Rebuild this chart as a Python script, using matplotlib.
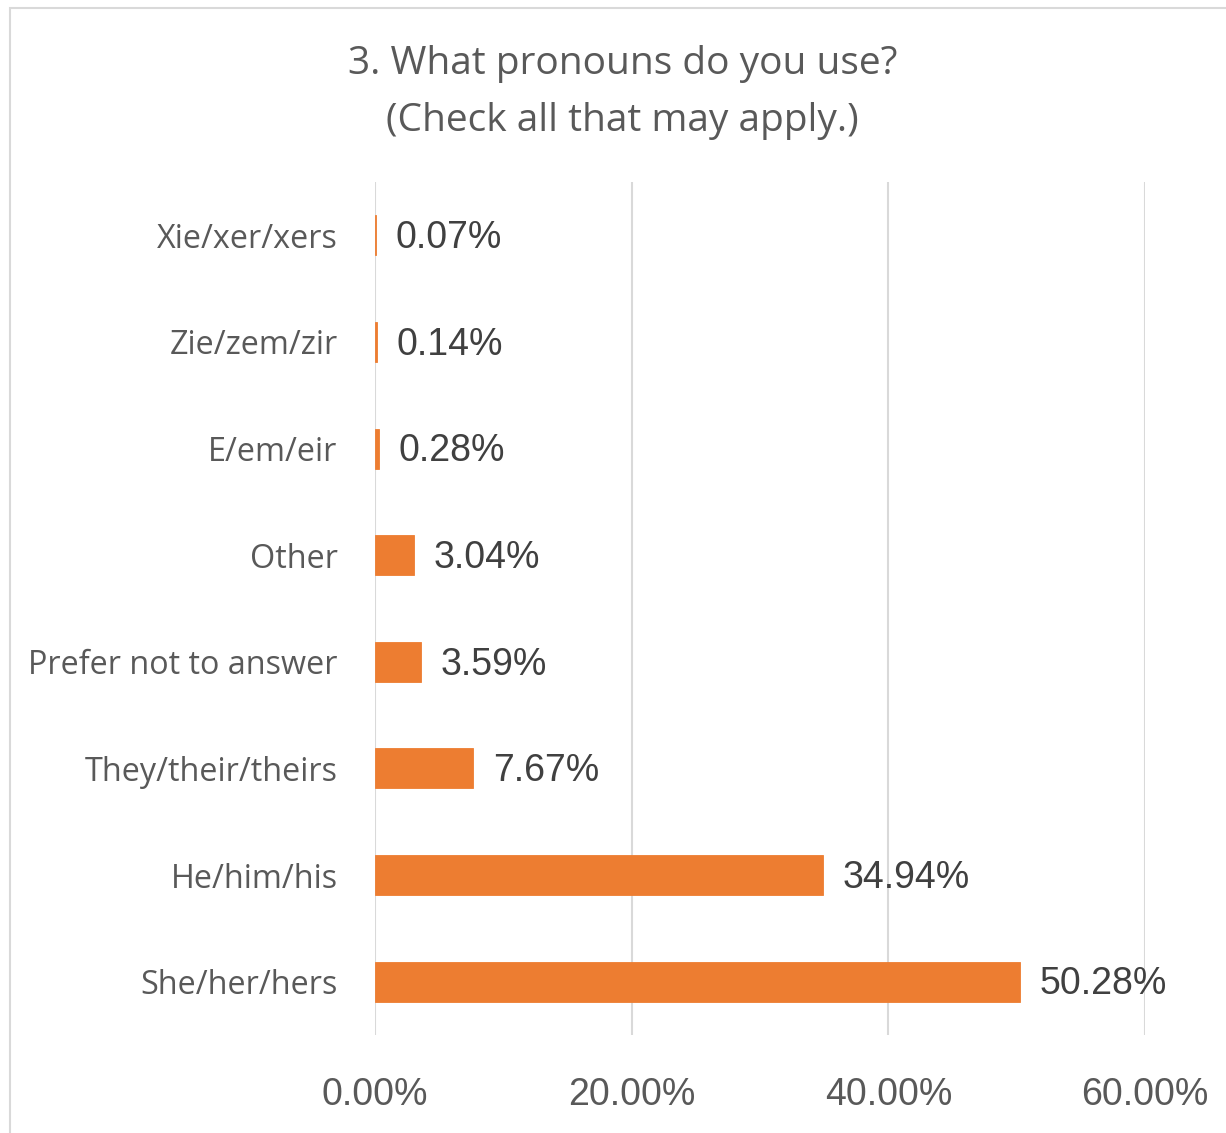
import matplotlib.pyplot as plt
from matplotlib.patches import Rectangle

categories = ['She/her/hers', 'He/him/his', 'They/their/theirs', 'Prefer not to answer',
              'Other', 'E/em/eir', 'Zie/zem/zir', 'Xie/xer/xers']
values = [50.28, 34.94, 7.67, 3.59, 3.04, 0.28, 0.14, 0.07]
x_ticks = [0, 20, 40, 60]

bar_color = '#ED7D31'
grid_color = '#D9D9D9'
text_grey = '#595959'

fig = plt.figure(figsize=(12.26, 11.33), dpi=100)
ax = fig.add_axes([0.3059, 0.0865, 0.628, 0.7529])

pos = list(range(len(categories)))
ax.barh(pos, values, height=0.375, color=bar_color, edgecolor=bar_color,
        linewidth=0.6, zorder=3)

ax.set_xlim(0, 60)
ax.set_ylim(-0.5, len(categories) - 0.5)
ax.set_xticks(x_ticks)
ax.set_xticklabels([f'{t:.2f}%' for t in x_ticks], fontsize=27,
                   family='Liberation Sans', color=text_grey)
ax.set_yticks(pos)
ax.set_yticklabels(categories, fontsize=23.3, family='Open Sans', color=text_grey)
ax.tick_params(axis='both', length=0)
ax.tick_params(axis='x', pad=30)
ax.tick_params(axis='y', pad=27)
ax.grid(axis='x', color=grid_color, linewidth=1.5, zorder=0)
for s in ax.spines.values():
    s.set_visible(False)

for p, v in zip(pos, values):
    ax.annotate(f'{v:.2f}%', xy=(v, p), xytext=(14, -2), textcoords='offset points',
                va='center', ha='left', fontsize=27, family='Liberation Sans',
                color='#404040')

fig.text(0.508, 0.9185, '3. What pronouns do you use?\n(Check all that may apply.)',
         ha='center', va='center', fontsize=28, family='Open Sans',
         color=text_grey, linespacing=1.65)

# chart border, cut off on the right and bottom like the screenshot
fig.patches.append(Rectangle((0.0082, -0.05), 1.1, 1.043, transform=fig.transFigure,
                             fill=False, edgecolor=grid_color, linewidth=1.5))

fig.savefig('out.png', dpi=100)
